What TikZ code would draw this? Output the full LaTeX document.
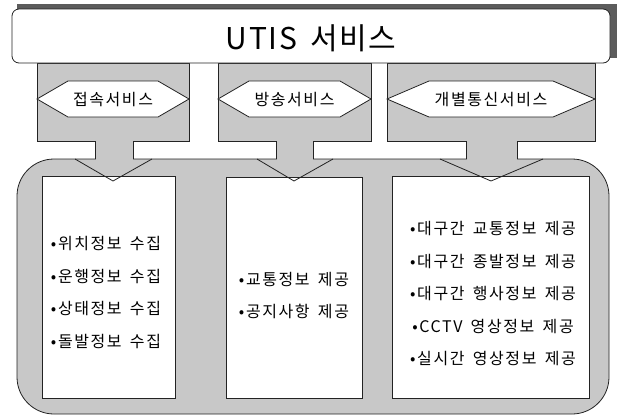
\documentclass[tikz,border=0pt]{standalone}
\usepackage{fontspec}
\setmainfont{Noto Sans CJK KR}
\newfontfamily\krfont[LetterSpace=10,WordSpace=1.6]{Noto Sans CJK KR}
\newfontfamily\krtitle[LetterSpace=6,WordSpace=1.5]{Noto Sans CJK KR}
\definecolor{pgray}{RGB}{200,200,200}
\definecolor{sgray}{RGB}{92,92,92}
\definecolor{lc}{RGB}{35,35,35}
\begin{document}
\begin{tikzpicture}[x=1pt,y=-1pt,line width=0.8pt,
  panel/.style={fill=pgray,draw=lc},
  wbox/.style={fill=white,draw=lc},
  hexlabel/.style={font=\krfont\fontsize{16}{16}\selectfont,inner sep=0pt},
  listtext/.style={font=\krfont\fontsize{16}{32.5}\selectfont,align=center,inner sep=0pt},
  vline/.style={draw=lc}]
\useasboundingbox (0,0) rectangle (617,418);
% title shadow
\fill[sgray] (17,4) rectangle (617,58);
% panels
\draw[panel] (37,63) rectangle (189,141);
\draw[panel] (218,63) rectangle (371,141);
\draw[panel] (387,63) rectangle (595,141);
% title box
\draw[wbox,rounded corners=7pt] (12,9) rectangle (610,63);
\node[font=\krtitle\fontsize{30}{30}\selectfont,inner sep=0pt] (title) at (311,38) {UTIS 서비스};
% container
\draw[panel,rounded corners=37pt] (17,159) rectangle (609,414);
% stems
\foreach \a/\b in {95/133,276/313,466/517}{
  \fill[pgray] (\a+0.5,140) rectangle (\b-0.5,160);
  \draw[vline] (\a,141) -- (\a,159);
  \draw[vline] (\b,141) -- (\b,159);
}
% hexagon labels
\draw[wbox] (37,99)--(68,81)--(158,81)--(189,99)--(158,117)--(68,117)--cycle;
\draw[wbox] (218,99)--(249,81)--(340,81)--(371,99)--(340,117)--(249,117)--cycle;
\draw[wbox] (387,99)--(429,81)--(553,81)--(595,99)--(553,117)--(429,117)--cycle;
\node[hexlabel] (h1) at (113,99.5) {접속서비스};
\node[hexlabel] (h2) at (294.5,99.5) {방송서비스};
\node[hexlabel] (h3) at (491,99.5) {개별통신서비스};
% white boxes
\draw[wbox] (42,176) rectangle (175,398);
\draw[wbox] (226,177) rectangle (362,398);
\draw[wbox] (392,176) rectangle (589,398);
% arrow heads
\draw[vline] (75,159)--(113,181)--(152,159);
\draw[vline] (257,159)--(294,181)--(333,159);
\draw[vline] (440,159)--(491,181)--(543,159);
% lists
\node[listtext] (l1) at (106,292.5) {•위치정보 수집\\•운행정보 수집\\•상태정보 수집\\•돌발정보 수집};
\node[listtext] (l2) at (294,295.5) {•교통정보 제공\\•공지사항 제공};
\node[listtext] (l3) at (493,294) {•대구간 교통정보 제공\\•대구간 종발정보 제공\\•대구간 행사정보 제공\\•CCTV 영상정보 제공\\•실시간 영상정보 제공};
\end{tikzpicture}
\end{document}
